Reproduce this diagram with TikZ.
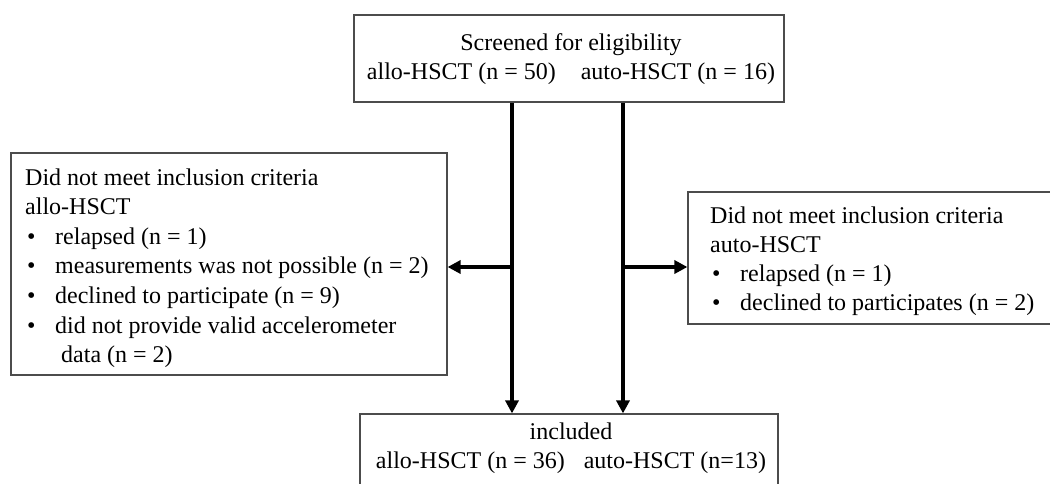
\documentclass[tikz,border=0pt]{standalone}
\usepackage{fontspec}
\setmainfont{Liberation Serif}
\usetikzlibrary{arrows.meta}
\begin{document}
\begin{tikzpicture}[x=1pt,y=-1pt,
  box/.style={draw=black!70, line width=1.2pt, rectangle, inner sep=0pt},
  txt/.style={font=\fontsize{24}{30}\selectfont, inner sep=0pt, anchor=base west},
  ctxt/.style={font=\fontsize{24}{30}\selectfont, inner sep=0pt, anchor=base},
  flow/.style={line width=4.5pt, -{Triangle[length=13pt,width=13pt]}}]
\useasboundingbox (0,0) rectangle (1050,483);
\clip (0,0) rectangle (1050,483);
% boxes
\node[box, minimum width=430pt, minimum height=87pt] (top) at (569,58.5) {};
\node[box, minimum width=436pt, minimum height=222pt] (excl1) at (229,264) {};
\node[box, minimum width=372pt, minimum height=132pt] (excl2) at (874,258) {};
\node[box, minimum width=418pt, minimum height=90pt] (inc) at (569,459) {};
% texts
\node[ctxt] (t1) at (571,50) {Screened for eligibility};
\node[ctxt] (t2) at (571,79) {allo-HSCT (n = 50)\hspace{25pt}auto-HSCT (n = 16)};
\node[txt] (l1) at (25,185) {Did not meet inclusion criteria};
\node[txt] (l2) at (25,214.6) {allo-HSCT};
\node[txt] (l3) at (27,244.2) {\makebox[28pt][l]{\textbullet}relapsed (n = 1)};
\node[txt] (l4) at (27,273.8) {\makebox[28pt][l]{\textbullet}measurements was not possible (n = 2)};
\node[txt] (l5) at (27,303.4) {\makebox[28pt][l]{\textbullet}declined to participate (n = 9)};
\node[txt] (l6) at (27,333) {\makebox[28pt][l]{\textbullet}did not provide valid accelerometer};
\node[txt] (l7) at (61,362.6) {data (n = 2)};
\node[txt] (r1) at (710,223) {Did not meet inclusion criteria};
\node[txt] (r2) at (710,252) {auto-HSCT};
\node[txt] (r3) at (712,281) {\makebox[28pt][l]{\textbullet}relapsed (n = 1)};
\node[txt] (r4) at (712,310) {\makebox[28pt][l]{\textbullet}declined to participates (n = 2)};
\node[ctxt] (b1) at (571,439) {included};
\node[ctxt] (b2) at (571,468) {allo-HSCT (n = 36)\hspace{19pt}auto-HSCT (n=13)};
% connectors
\coordinate (ja) at (512,267);
\coordinate (jb) at (623,267);
\draw[flow] (top.south -| ja) -- (inc.north -| ja);
\draw[flow] (top.south -| jb) -- (inc.north -| jb);
\draw[flow] (ja) -- (excl1.east |- ja);
\draw[flow] (jb) -- (excl2.west |- jb);
\end{tikzpicture}
\end{document}
